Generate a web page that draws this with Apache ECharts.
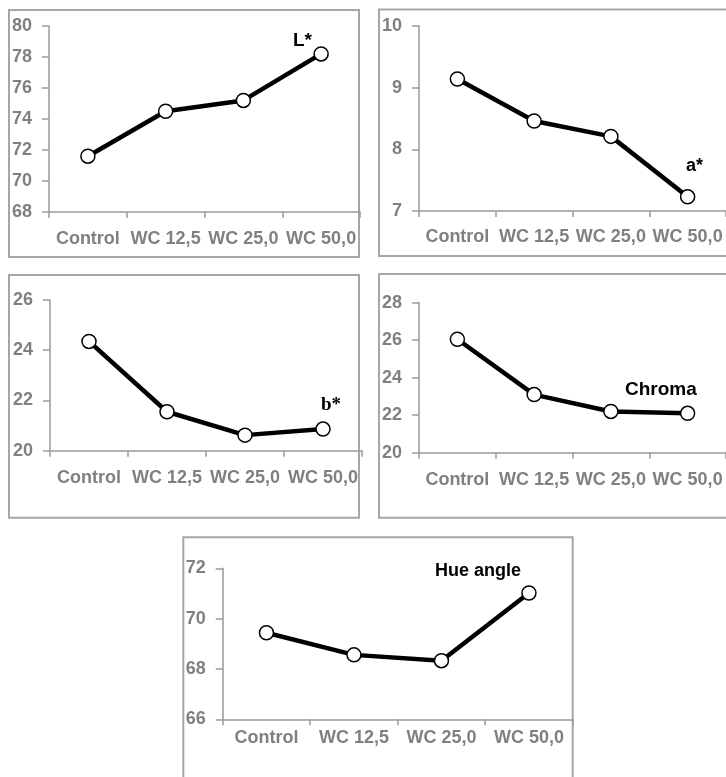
<!DOCTYPE html>
<html>
<head>
<meta charset="utf-8">
<script src="https://cdn.jsdelivr.net/npm/echarts@6/dist/echarts.min.js"></script>
<style>html,body{margin:0;padding:0;background:#fff}#c{width:726px;height:777px}</style>
</head>
<body>
<div id="c"></div>
<script>
var categories = ['Control', 'WC 12,5', 'WC 25,0', 'WC 50,0'];
var lValues = [71.6, 74.5, 75.2, 78.2];
var aValues = [9.14, 8.46, 8.21, 7.23];
var bValues = [24.35, 21.55, 20.62, 20.86];
var chromaValues = [26.05, 23.1, 22.2, 22.1];
var hueValues = [69.44, 68.56, 68.33, 71.02];
var yRanges = [[68, 80, 2], [7, 10, 1], [20, 26, 2], [20, 28, 2], [66, 72, 2]];
var seriesNames = ['L*', 'a*', 'b*', 'Chroma', 'Hue angle'];

var chart = echarts.init(document.getElementById('c'), null, {renderer: 'canvas'});
var grids = [
  {left: 49, top: 26, width: 311, height: 186},
  {left: 419, top: 26, width: 311.5, height: 185},
  {left: 50, top: 300, width: 312, height: 150.7},
  {left: 419, top: 302.7, width: 312, height: 150},
  {left: 222.7, top: 568.3, width: 350, height: 151}
];
var labelMargins = [18.5, 17.5, 18.5, 18.5, 10];
var allValues = [lValues, aValues, bValues, chromaValues, hueValues];
var axisCol = '#9a9a9a';
var labelFont = {color: '#808080', fontFamily: 'Liberation Sans, Arial, sans-serif', fontWeight: 'bold', fontSize: 18};

var xAxes = [], yAxes = [], series = [];
for (var i = 0; i < 5; i++) {
  xAxes.push({
    type: 'category', gridIndex: i, data: categories, boundaryGap: true,
    axisLine: {show: true, lineStyle: {color: axisCol, width: 1.5}},
    axisTick: {show: true, length: 6, inside: false, lineStyle: {color: axisCol, width: 1.5}},
    axisLabel: Object.assign({interval: 0, margin: labelMargins[i]}, labelFont),
    splitLine: {show: false}
  });
  yAxes.push({
    type: 'value', gridIndex: i, min: yRanges[i][0], max: yRanges[i][1], interval: yRanges[i][2],
    axisLine: {show: true, lineStyle: {color: axisCol, width: 1.5}},
    axisTick: {show: true, length: 7, lineStyle: {color: axisCol, width: 1.5}},
    axisLabel: Object.assign({margin: 17}, labelFont),
    splitLine: {show: false}
  });
  series.push({
    type: 'line', name: seriesNames[i], xAxisIndex: i, yAxisIndex: i, data: allValues[i],
    symbol: 'circle', symbolSize: 14,
    lineStyle: {color: '#000', width: 4.5},
    itemStyle: {color: '#fff', borderColor: '#000', borderWidth: 1.5},
    emphasis: {disabled: true},
    z: 3
  });
}

var borderStyle = {fill: 'none', stroke: '#a6a6a6', lineWidth: 2};
var boxes = [
  [9, 10, 350, 247],
  [379, 9.5, 360, 246.5],
  [9, 275, 350, 242.7],
  [379, 274, 360, 243.7],
  [183.3, 537.3, 389.4, 260]
];
var graphics = boxes.map(function (b) {
  return {type: 'rect', shape: {x: b[0], y: b[1], width: b[2], height: b[3]}, style: borderStyle, silent: true, z: 0};
});
var sansB = 'Liberation Sans, Arial, sans-serif';
var notes = [
  {text: 'L*', x: 293, y: 41, font: sansB, size: 19},
  {text: 'a*', x: 686, y: 166, font: sansB, size: 18},
  {text: 'b*', x: 321, y: 405, font: 'Liberation Serif, Times New Roman, serif', size: 19},
  {text: 'Chroma', x: 625, y: 389.5, font: sansB, size: 19},
  {text: 'Hue angle', x: 435, y: 571.5, font: sansB, size: 18}
];
notes.forEach(function (n) {
  graphics.push({type: 'text', x: n.x, y: n.y, z: 5, silent: true,
    style: {text: n.text, fill: '#000', fontFamily: n.font, fontWeight: 'bold', fontSize: n.size,
      textAlign: 'left', textVerticalAlign: 'middle'}});
});

chart.setOption({
  animation: false,
  backgroundColor: '#fff',
  grid: grids.map(function (g) { return Object.assign({containLabel: false}, g); }),
  xAxis: xAxes,
  yAxis: yAxes,
  series: series,
  graphic: graphics
});
</script>
</body>
</html>
